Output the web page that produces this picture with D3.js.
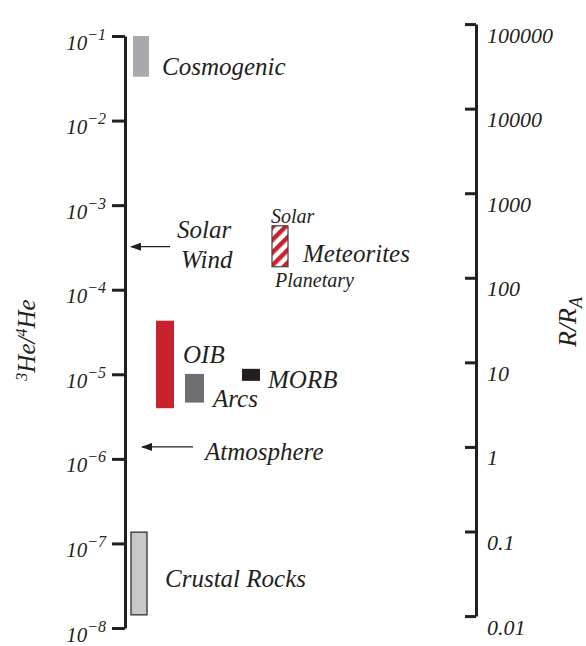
<!DOCTYPE html>
<html><head><meta charset="utf-8">
<script src="https://cdn.jsdelivr.net/npm/d3@7"></script>
<style>
body{margin:0;background:#fff}
svg{display:block}
text{font-family:"Liberation Serif","DejaVu Serif",serif;font-style:italic;fill:#231f20}
</style>
</head><body><svg width="586" height="646"></svg>
<script>
// ---- data ----
const categories = ["Cosmogenic", "Crustal Rocks", "OIB", "Arcs", "MORB", "Meteorites"];
const rangeLow  = [3.3e-2, 1.43e-8, 3.97e-6, 4.63e-6, 8.36e-6, 1.87e-4];
const rangeHigh = [1.0e-1, 1.36e-7, 4.3e-5, 1.01e-5, 1.16e-5, 5.7e-4];
const arrowCategories = ["Solar Wind", "Atmosphere"];
const arrowValues = [3.23e-4, 1.384e-6];
const RA = 1.384e-6; // atmospheric 3He/4He
const leftTickValues = [1e-1, 1e-2, 1e-3, 1e-4, 1e-5, 1e-6, 1e-7, 1e-8];
const leftTickExponents = ["−1", "−2", "−3", "−4", "−5", "−6", "−7", "−8"];
const rightTickValues = [100000, 10000, 1000, 100, 10, 1, 0.1, 0.01];
const rightTickLabels = ["100000", "10000", "1000", "100", "10", "1", "0.1", "0.01"];

// ---- layout / style ----
const barLayout = {
  "Cosmogenic":    {x: 133, w: 16, fill: "#a7a9ac"},
  "Crustal Rocks": {x: 131, w: 16, fill: "#c7c8ca", stroke: "#231f20"},
  "OIB":           {x: 156, w: 18, fill: "#c8222c"},
  "Arcs":          {x: 185, w: 19, fill: "#6d6e71"},
  "MORB":          {x: 242, w: 18, fill: "#231f20"},
  "Meteorites":    {x: 272, w: 16, fill: "url(#stripes)", stroke: "#414042"}
};
const labelLayout = [
  {t: "Cosmogenic", x: 162, y: 75},
  {t: "Crustal Rocks", x: 165, y: 587},
  {t: "OIB", x: 183, y: 363},
  {t: "Arcs", x: 213, y: 407},
  {t: "MORB", x: 268, y: 388},
  {t: "Meteorites", x: 303, y: 262},
  {t: "Solar", x: 177, y: 238},
  {t: "Wind", x: 181, y: 268},
  {t: "Atmosphere", x: 205, y: 460},
  {t: "Solar", x: 271, y: 223, small: true},
  {t: "Planetary", x: 275, y: 287, small: true}
];
const arrowLayout = {"Solar Wind": {x1: 170, x2: 131}, "Atmosphere": {x1: 193, x2: 142}};

const svg = d3.select("svg");
const ink = "#231f20";

const defs = svg.append("defs");
const pat = defs.append("pattern").attr("id", "stripes")
  .attr("patternUnits", "userSpaceOnUse").attr("width", 9).attr("height", 9)
  .attr("patternTransform", "rotate(45)");
pat.append("rect").attr("width", 9).attr("height", 9).attr("fill", "#fff");
pat.append("rect").attr("width", 4.5).attr("height", 9).attr("fill", "#c8222c");
defs.append("marker").attr("id", "arr").attr("markerUnits", "userSpaceOnUse")
  .attr("markerWidth", 11).attr("markerHeight", 8).attr("viewBox", "0 0 11 8")
  .attr("refX", 10).attr("refY", 4).attr("orient", "auto")
  .append("path").attr("d", "M0,0L11,4L0,8Z").attr("fill", ink);

// ---- scales ----
const y = d3.scaleLog().domain([1e-8, 1e-1]).range([628, 36]);
const yR = d3.scaleLog().domain([0.01, 100000]).range([y(0.01 * RA), y(100000 * RA)]);

// ---- left axis ----
const gL = svg.append("g").attr("transform", "translate(125,0)")
  .call(d3.axisLeft(y).tickValues(leftTickValues).tickSize(13).tickSizeOuter(0).tickFormat(""));
gL.select(".domain").attr("stroke", ink).attr("stroke-width", 3);
gL.selectAll(".tick line").attr("stroke", ink).attr("stroke-width", 3);
gL.selectAll(".tick text").remove();
gL.selectAll(".tick").each(function(d, i) {
  const t = d3.select(this).append("text").attr("x", -19).attr("y", 13)
    .attr("text-anchor", "end").style("font-size", "21px").attr("fill", ink);
  t.append("tspan").text("10");
  t.append("tspan").attr("dy", -10).style("font-size", "16px").text(leftTickExponents[i]);
});

// ---- right axis ----
const gR = svg.append("g").attr("transform", "translate(476,0)")
  .call(d3.axisRight(yR).tickValues(rightTickValues).tickSizeInner(-11).tickSizeOuter(0)
    .tickPadding(11).tickFormat((d, i) => rightTickLabels[i]));
gR.select(".domain").attr("stroke", ink).attr("stroke-width", 3);
gR.selectAll(".tick line").attr("stroke", ink).attr("stroke-width", 3);
gR.selectAll(".tick text").attr("dy", 18).attr("fill", ink).style("font-size", "22px");

// ---- bars ----
svg.append("g").selectAll("rect").data(categories).join("rect")
  .attr("x", d => barLayout[d].x)
  .attr("width", d => barLayout[d].w)
  .attr("y", (d, i) => y(rangeHigh[i]))
  .attr("height", (d, i) => y(rangeLow[i]) - y(rangeHigh[i]))
  .attr("fill", d => barLayout[d].fill)
  .attr("stroke", d => barLayout[d].stroke || "none")
  .attr("stroke-width", 1.2);

// ---- arrows ----
svg.append("g").selectAll("line").data(arrowCategories).join("line")
  .attr("x1", d => arrowLayout[d].x1).attr("x2", d => arrowLayout[d].x2)
  .attr("y1", (d, i) => y(arrowValues[i])).attr("y2", (d, i) => y(arrowValues[i]))
  .attr("stroke", ink).attr("stroke-width", 1.4).attr("marker-end", "url(#arr)");

// ---- labels ----
svg.append("g").selectAll("text").data(labelLayout).join("text")
  .attr("x", d => d.x).attr("y", d => d.y)
  .style("font-size", d => d.small ? "20px" : "25px")
  .text(d => d.t);

// ---- axis titles ----
const tl = svg.append("text").attr("transform", "translate(35,340) rotate(-90)")
  .attr("text-anchor", "middle").style("font-size", "25px");
tl.append("tspan").attr("dy", -8).style("font-size", "16px").text("3");
tl.append("tspan").attr("dy", 8).text("He/");
tl.append("tspan").attr("dy", -8).style("font-size", "16px").text("4");
tl.append("tspan").attr("dy", 8).text("He");

const tr = svg.append("text").attr("transform", "translate(576,322) rotate(-90)")
  .attr("text-anchor", "middle").style("font-size", "26px");
tr.append("tspan").text("R/R");
tr.append("tspan").attr("dy", 6).style("font-size", "18px").text("A");
</script>
</body></html>
